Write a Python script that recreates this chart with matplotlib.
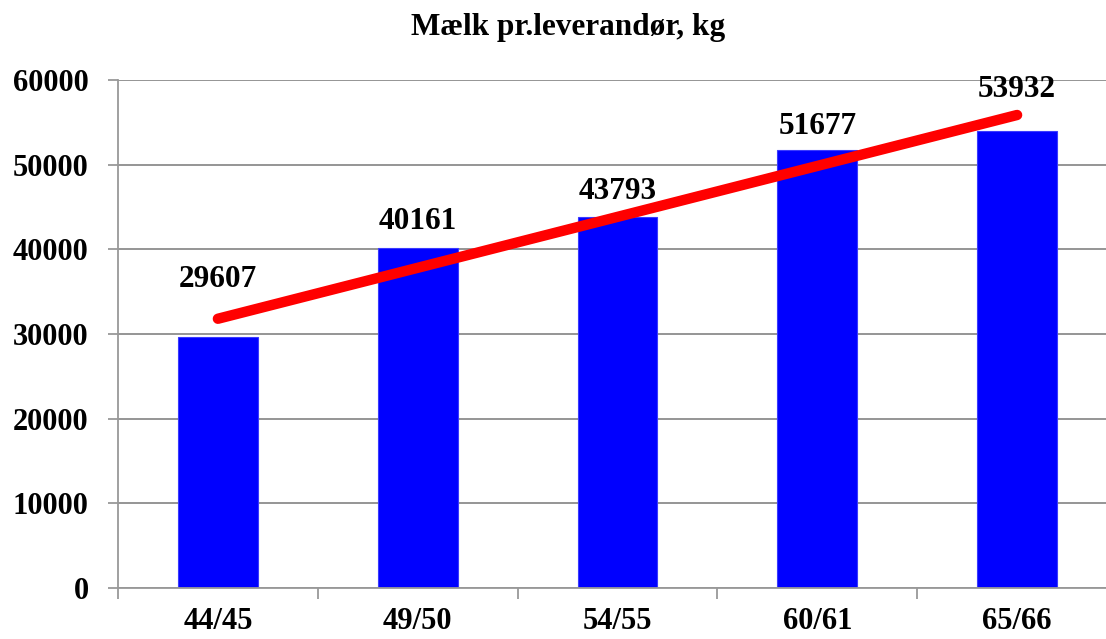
import matplotlib.pyplot as plt
import numpy as np

# data
seasons = ["44/45", "49/50", "54/55", "60/61", "65/66"]
milk_kg = [29607, 40161, 43793, 51677, 53932]
# gap (points) between top of bar and label baseline, as placed in the original
label_gap = [36, 13.5, 13, 12, 25]

plt.rcParams.update({
    "font.family": "Liberation Serif",
    "font.weight": "bold",
    "font.size": 22,
})

fig = plt.figure(figsize=(11.06, 6.39), dpi=100)
W, H = 1106, 639
ax = fig.add_axes([118 / W, 1 - 588 / H, (W - 118) / W, (588 - 80) / H])

x = np.arange(len(seasons))
ax.bar(x, milk_kg, width=0.4, color="#0000ff", edgecolor="#3a3aff", linewidth=0.8, zorder=2)

# linear trendline
k, m = np.polyfit(x, milk_kg, 1)
ax.plot(x[[0, -1]], k * x[[0, -1]] + m, color="#ff0000", linewidth=7.5,
        solid_capstyle="round", zorder=3)

for xi, v, g in zip(x, milk_kg, label_gap):
    ax.annotate(str(v), (xi, v), xytext=(0, g), textcoords="offset points",
                ha="center", va="baseline", fontsize=22.5, fontweight="bold", zorder=4)

ax.set_yticks(np.arange(0, 60001, 10000))
ax.set_xticks(x)
ax.set_xticklabels(seasons)
ax.set_xticks(np.arange(-0.5, len(seasons), 1.0), minor=True)

# limits after ticks so the minor ticks don't stretch the view
cat_w = 199.8
ax.set_xlim(-0.5, -0.5 + (W - 118) / cat_w)
ax.set_ylim(0, 60000)

ax.tick_params(axis="x", which="major", length=0, pad=14)
ax.tick_params(axis="x", which="minor", length=8, width=1.3, color="#999999")
ax.tick_params(axis="y", length=7, width=1.3, color="#999999", pad=14)

ax.grid(axis="y", color="#8c8c8c", linewidth=1.3, zorder=0)
ax.set_axisbelow(True)
for s in ["top", "right"]:
    ax.spines[s].set_visible(False)
for s in ["left", "bottom"]:
    ax.spines[s].set_color("#999999")
    ax.spines[s].set_linewidth(1.3)

fig.text(568 / W, 1 - 34.5 / H, "Mælk pr.leverandør, kg", ha="center", va="baseline",
         fontsize=22.5, fontweight="bold")

fig.savefig("out.png", dpi=100)
